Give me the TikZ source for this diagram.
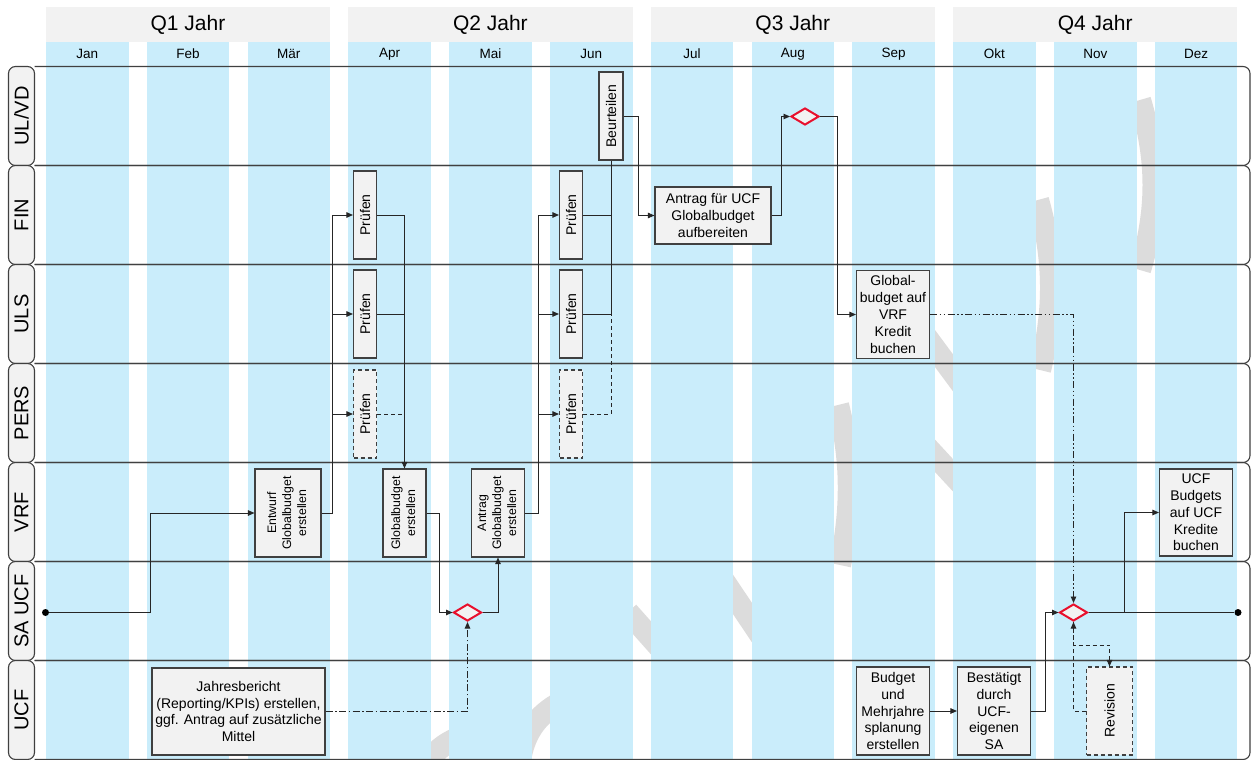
\documentclass[tikz,border=0pt]{standalone}
\usepackage{fontspec}
\setmainfont{Liberation Sans}
\usepackage{graphicx}
\usetikzlibrary{positioning,arrows.meta,shapes.geometric}

\definecolor{monthblue}{HTML}{CAEDFB}
\definecolor{headgray}{HTML}{F2F2F2}
\definecolor{boxgray}{HTML}{F2F2F2}
\definecolor{framegray}{HTML}{404040}
\definecolor{linegray}{HTML}{262626}
\definecolor{gatered}{HTML}{E8102D}
\definecolor{markgray}{HTML}{DCDCDC}

\newcommand{\vlabel}[1]{\rotatebox{90}{\begin{tabular}{@{}c@{}}#1\end{tabular}}}

\tikzset{
  task/.style={draw=framegray, line width=1.1pt, fill=boxgray, inner sep=1pt, align=center, font=\fontsize{14}{16.8}\selectfont},
  vtask/.style={task, minimum height=88pt},
  smalltext/.style={font=\fontsize{12.3}{15}\selectfont},
  optional/.style={dash pattern=on 4pt off 3pt},
  gate/.style={diamond, draw=gatered, line width=2pt, fill=boxgray, inner sep=0pt, minimum width=28pt, minimum height=17pt},
  terminal/.style={circle, fill=black, inner sep=0pt, minimum size=7pt},
  link/.style={draw=linegray, line width=0.9pt},
  flow/.style={link, -{Triangle[length=6.5pt,width=5.5pt]}},
  msgflow/.style={dash pattern=on 7pt off 2.5pt on 1.5pt off 2.5pt},
  msgflowtwo/.style={dash pattern=on 7pt off 2.5pt on 1.5pt off 2.5pt on 1.5pt off 2.5pt},
  lane/.style={draw=framegray, line width=1.1pt, rounded corners=7pt},
  lanelabel/.style={draw=framegray, line width=1.1pt, fill=boxgray, rounded corners=7pt, minimum width=26pt, minimum height=99pt, inner sep=0pt, font=\fontsize{20}{24}\selectfont},
  watermark/.style={draw=markgray, line width=22pt}
}

\begin{document}
\begin{tikzpicture}[x=1pt, y=-1pt]
  \useasboundingbox (0,0) rectangle (1253,760);
  \fill[white] (0,0) rectangle (1253,760);

  % watermark behind the month columns
  \draw[watermark] (1140,100) .. controls (1158,160) and (1158,210) .. (1140,270);
  \draw[watermark] (1038,200) .. controls (1055,260) and (1055,310) .. (1040,370);
  \draw[watermark] (925,335) -- (962,385);
  \draw[watermark] (925,445) -- (962,485);
  \draw[watermark] (838,405) .. controls (852,460) and (852,510) .. (840,565);
  \draw[watermark] (722,578) -- (765,642);
  \draw[watermark] (628,612) -- (660,648);
  \draw[watermark] (520,760) .. controls (525,730) and (540,712) .. (565,700);
  \draw[watermark] (425,768) .. controls (432,755) and (440,745) .. (460,737);

  % quarters and months
  \foreach \q [count=\i from 0] in {Q1,Q2,Q3,Q4} {
    \fill[headgray] ({46+302.4*\i},7) rectangle ++(284.1,35);
    \node[font=\fontsize{21}{25}\selectfont] (head\q) at ({188+302.4*\i},24.5) {\q{} Jahr};
  }
  \foreach \m [count=\i from 0] in {Jan,Feb,Mär,Apr,Mai,Jun,Jul,Aug,Sep,Okt,Nov,Dez} {
    \fill[monthblue] ({46+100.8*\i},42) rectangle ++(82.5,718);
    \node[font=\fontsize{13.5}{16}\selectfont] (month\i) at ({87.25+100.8*\i},54) {\m};
  }

  % swim lanes
  \foreach \lab [count=\k from 0] in {UL/VD,FIN,ULS,PERS,VRF,SA UCF,UCF} {
    \pgfmathsetmacro\ltop{66.5+99*\k}
    \draw[lane] (34.5,\ltop) -- (1250,\ltop) -- (1250,{\ltop+99}) -- (34.5,{\ltop+99});
    \node[lanelabel] (lane\k) at (21.5,{\ltop+49.5}) {\rotatebox{90}{\lab}};
  }

  % tasks
  \node[vtask, minimum width=24pt] (beurteilen) at (611,116) {\rotatebox{90}{Beurteilen}};
  \node[vtask, minimum width=23pt] (pruefFinA) at (365,215) {\rotatebox{90}{Prüfen}};
  \node[vtask, minimum width=23pt] (pruefUlsA) at (365,314) {\rotatebox{90}{Prüfen}};
  \node[vtask, optional, minimum width=23pt] (pruefPersA) at (365,414) {\rotatebox{90}{Prüfen}};
  \node[vtask, minimum width=23pt] (pruefFinB) at (571,215) {\rotatebox{90}{Prüfen}};
  \node[vtask, minimum width=23pt] (pruefUlsB) at (571,314) {\rotatebox{90}{Prüfen}};
  \node[vtask, optional, minimum width=23pt] (pruefPersB) at (571,414) {\rotatebox{90}{Prüfen}};
  \node[task, minimum width=116pt, minimum height=57pt] (antragUcf) at (713,215.5) {Antrag für UCF\\Globalbudget\\aufbereiten};
  \node[gate] (gateAug) at (805,116.5) {};
  \node[vtask, minimum width=73pt] (globalVrf) at (893,314.5) {Global-\\budget auf\\VRF\\Kredit\\buchen};
  \node[vtask, smalltext, minimum width=66pt] (entwurf) at (288,513) {\vlabel{Entwurf\\Globalbudget\\erstellen}};
  \node[vtask, smalltext, minimum width=43pt] (globalApr) at (404.5,513) {\vlabel{Globalbudget\\erstellen}};
  \node[vtask, smalltext, minimum width=53pt] (antragGlob) at (498,513) {\vlabel{Antrag\\Globalbudget\\erstellen}};
  \node[vtask, minimum width=73pt, minimum height=87pt] (ucfBudgets) at (1196,512.5) {UCF\\Budgets\\auf UCF\\Kredite\\buchen};
  \node[gate] (gateMai) at (467.5,612.5) {};
  \node[gate] (gateNov) at (1073.5,612.5) {};
  \node[terminal] (startDot) at (45.5,612.5) {};
  \node[terminal] (endDot) at (1238,612.5) {};
  \node[task, minimum width=173pt, minimum height=87pt] (jahresbericht) at (238.5,711.5) {Jahresbericht\\(Reporting/KPIs) erstellen,\\ggf. Antrag auf zusätzliche\\Mittel};
  \node[vtask, minimum width=73pt] (budgetPlan) at (893,711) {Budget\\und\\Mehrjahre\\splanung\\erstellen};
  \node[vtask, minimum width=73pt] (bestaetigt) at (994,711) {Bestätigt\\durch\\UCF-\\eigenen\\SA};
  \node[vtask, optional, minimum width=46pt] (revision) at (1109.5,711) {\rotatebox{90}{Revision}};

  % connectors
  \draw[flow] (startDot) -- ++(104.5,0) |- (entwurf.west);
  \draw[flow] (entwurf.east) -- ++(11,0) |- (pruefFinA.west);
  \draw[flow] (entwurf.east) ++(11,0) |- (pruefUlsA.west);
  \draw[flow] (entwurf.east) ++(11,0) |- (pruefPersA.west);
  \draw[flow] (pruefFinA.east) -| (globalApr.north);
  \draw[link] (pruefUlsA.east) -- (pruefUlsA.east -| globalApr.north);
  \draw[link, optional] (pruefPersA.east) -- (pruefPersA.east -| globalApr.north);
  \draw[flow] (globalApr.east) -- ++(13,0) |- (gateMai.west);
  \draw[flow] (gateMai.east) -| (antragGlob.south);
  \draw[flow, msgflow] (jahresbericht.east) -| (gateMai.south);
  \draw[flow] (antragGlob.east) -- ++(13.5,0) |- (pruefFinB.west);
  \draw[flow] (antragGlob.east) ++(13.5,0) |- (pruefUlsB.west);
  \draw[flow] (antragGlob.east) ++(13.5,0) |- (pruefPersB.west);
  \draw[link] (pruefFinB.east) -- (pruefFinB.east -| beurteilen.south);
  \draw[link] (pruefUlsB.east) -| (beurteilen.south);
  \draw[link, optional] (pruefPersB.east) -| (pruefUlsB.east -| beurteilen.south);
  \draw[flow] (beurteilen.east) -- ++(15,0) |- (antragUcf.west);
  \draw[flow] (antragUcf.east) -- ++(10,0) |- (gateAug.west);
  \draw[flow] (gateAug.east) -- ++(17.5,0) |- (globalVrf.west);
  \draw[flow, msgflowtwo] (globalVrf.east) -| (gateNov.north);
  \draw[flow] (budgetPlan.east) -- (bestaetigt.west);
  \draw[flow] (bestaetigt.east) -- ++(14.5,0) |- (gateNov.west);
  \draw[link] (gateNov.east) -- (endDot);
  \draw[flow] (gateNov.east) ++(35.5,0) |- (ucfBudgets.west);
  \draw[flow, optional] (gateNov.south) -- ++(0,23) -| (revision.north);
  \draw[flow, optional] (revision.west) -| (gateNov.south);
\end{tikzpicture}
\end{document}
